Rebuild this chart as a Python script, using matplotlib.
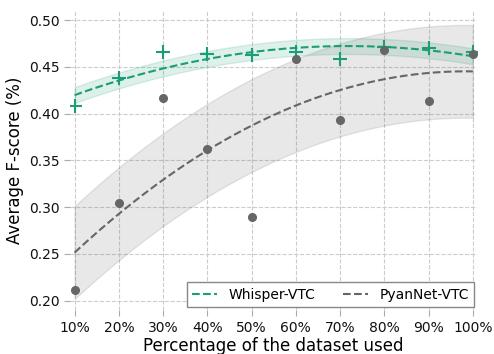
import matplotlib
matplotlib.use("Agg")
import matplotlib.pyplot as plt
import numpy as np

# data
pct = [10, 20, 30, 40, 50, 60, 70, 80, 90, 100]
whisper = [0.408, 0.438, 0.466, 0.464, 0.463, 0.466, 0.459, 0.4715, 0.470, 0.466]
pyannet = [0.211, 0.305, 0.417, 0.362, 0.290, 0.458, 0.393, 0.468, 0.4135, 0.464]
tick_labels = ["10%", "20%", "30%", "40%", "50%", "60%", "70%", "80%", "90%", "100%"]

green = "#1b9e77"
grey = "#666666"


def quad_fit(x, y, xs):
    # order-2 polyfit, band = fit +/- std of residuals
    coef = np.polyfit(x, y, 2)
    resid = np.asarray(y) - np.polyval(coef, x)
    sd = np.std(resid)
    fit = np.polyval(coef, xs)
    return fit, fit - sd, fit + sd


fig, ax = plt.subplots(figsize=(4.94, 3.54), dpi=100)
fig.subplots_adjust(left=0.142, right=0.966, top=0.972, bottom=0.124)

xs = np.linspace(10, 100, 200)

for y, col, mk, name in [(whisper, green, "+", "Whisper-VTC"),
                         (pyannet, grey, "o", "PyanNet-VTC")]:
    fit, lo, hi = quad_fit(pct, y, xs)
    ax.fill_between(xs, lo, hi, color=col, alpha=0.15)
    ax.plot(xs, fit, ls="--", color=col, lw=1.5, label=name)
    if mk == "+":
        ax.plot(pct, y, ls="none", marker="+", ms=10, mew=1.5, color=col)
    else:
        ax.plot(pct, y, ls="none", marker="o", ms=5.5, color=col)

ax.set_xlim(9, 101)
ax.set_ylim(0.19, 0.511)
ax.set_xticks(pct)
ax.set_xticklabels(tick_labels)
ax.set_yticks([0.20, 0.25, 0.30, 0.35, 0.40, 0.45, 0.50])
ax.tick_params(labelsize=10, length=4, width=0.8, colors="#aaaaaa", labelcolor="#111111")
ax.grid(True, ls="--", color="#cccccc", lw=0.8)
ax.set_axisbelow(True)
for sp in ax.spines.values():
    sp.set_visible(False)

ax.set_xlabel("Percentage of the dataset used", fontsize=12, labelpad=2)
ax.set_ylabel("Average F-score (%)", fontsize=12, labelpad=4)

leg = ax.legend(loc="lower right", ncol=2, fontsize=10, fancybox=False,
                edgecolor="#888888", framealpha=1, columnspacing=2.0,
                handlelength=1.8, borderaxespad=0.2)
leg.get_frame().set_linewidth(1.0)

fig.savefig("out.png", dpi=100)
